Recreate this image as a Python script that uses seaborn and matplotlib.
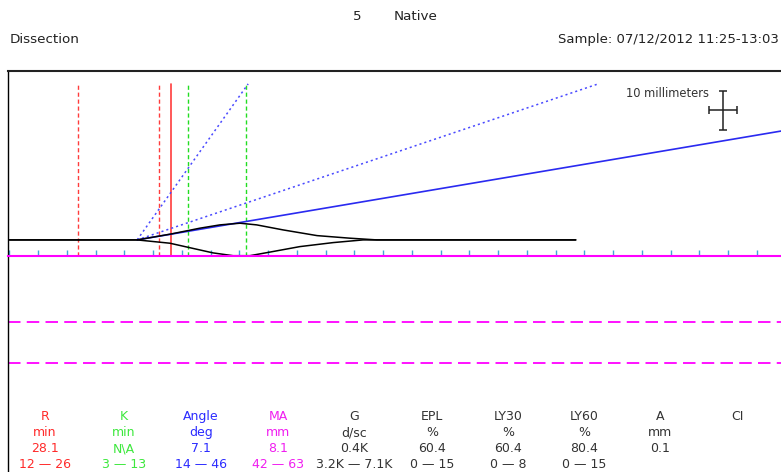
import numpy as np
import pandas as pd
import matplotlib
matplotlib.use("Agg")
import matplotlib.pyplot as plt
import seaborn as sns

# ---- assay parameters ----
r_value = 28.1            # min
r_range = [12, 26]        # min
k_range = [3, 13]         # min after R
angle_value = 7.1         # deg
angle_range = [14, 46]    # deg
ma_value = 8.1            # mm
ma_range = [42, 63]       # mm
paper_speed = 2.0         # mm of chart per minute
guide_top = 40.0          # mm, top of the guide lines
trace_onset = 22.2        # min, where the trace starts to open

# ---- tracing (amplitude in mm vs time in min) ----
upper_time = [0, 22.2, 27.9, 33.1, 36.6, 40.1, 43.0, 47.6, 53.5, 59.2, 63.9, 98.5]
upper_amp = [0, 0, 1.46, 3.0, 3.85, 4.28, 3.85, 2.56, 1.10, 0.44, 0, 0]
lower_time = [0, 22.2, 27.9, 35.4, 38.9, 41.8, 44.8, 50.5, 56.3, 61.5, 98.5]
lower_amp = [0, 0, -0.85, -3.33, -4.05, -4.05, -3.26, -1.72, -0.69, 0, 0]

# ---- results table ----
col_names = ["R", "K", "Angle", "MA", "G", "EPL", "LY30", "LY60", "A", "CI"]
col_units = ["min", "min", "deg", "mm", "d/sc", "%", "%", "%", "mm", ""]
col_values = ["28.1", "N\\A", "7.1", "8.1", "0.4K", "60.4", "60.4", "80.4", "0.1", ""]
col_ranges = ["12 — 26", "3 — 13", "14 — 46", "42 — 63", "3.2K — 7.1K",
              "0 — 15", "0 — 8", "0 — 15", "", ""]
col_colors = ["#ff2a2a", "#3de83d", "#2b2bff", "#f01ef0", "#333333",
              "#333333", "#333333", "#333333", "#333333", "#333333"]

sns.set_theme(style="white")
plt.rcParams["font.family"] = ["DejaVu Sans"]
plt.rcParams["lines.scale_dashes"] = False

W, H = 781, 472
fig = plt.figure(figsize=(W / 100, H / 100), dpi=100)
ax = fig.add_axes([8 / W, 0, (W - 8) / W, (H - 71) / H])
ax.set_xlim(-0.26, 134.2)
ax.set_ylim(-59.5, 43.3)

RED, GREEN = "#ff3c3c", "#22dd22"
BLUE_DOT, BLUE = "#4a4aff", "#2a2af0"
MAGENTA = "#ff00ff"

ma_half = ma_value / 2

# guide lines for R and K
for x in r_range:
    ax.plot([x, x], [-ma_half, guide_top], color=RED, lw=1, dashes=(3, 2))
ax.plot([r_value, r_value], [-ma_half, guide_top], color=RED, lw=1.2)
for k in k_range:
    x = r_value + k
    ax.plot([x, x], [-ma_half, guide_top], color=GREEN, lw=1, dashes=(3, 2))

# angle reference lines from the onset
for ang in angle_range:
    slope = paper_speed * np.tan(np.radians(ang))
    t_end = trace_onset + guide_top / slope
    df = pd.DataFrame({"t": [trace_onset, t_end], "a": [0, guide_top]})
    sns.lineplot(data=df, x="t", y="a", ax=ax, color=BLUE_DOT, lw=1.1,
                 dashes=False, estimator=None).lines[-1].set_dashes((1.5, 2.2))

slope = paper_speed * np.tan(np.radians(angle_value))
t_far = 140
df = pd.DataFrame({"t": [trace_onset, t_far], "a": [0, slope * (t_far - trace_onset)]})
sns.lineplot(data=df, x="t", y="a", ax=ax, color=BLUE, lw=1.2, estimator=None)

# the tracing
sns.lineplot(x=upper_time, y=upper_amp, ax=ax, color="black", lw=1.1, estimator=None)
sns.lineplot(x=lower_time, y=lower_amp, ax=ax, color="black", lw=1.1, estimator=None)

# MA normal range
for m in ma_range:
    ax.axhline(-m / 2, color=MAGENTA, lw=1.3, dashes=(9, 4.5))

# scale bar: 10 mm each way
ax.errorbar([124.1], [33.2], xerr=[10 / paper_speed / 2], yerr=[5],
            color="#222222", lw=1.1, capsize=3, capthick=1.1)
ax.text(121.6, 37.6, "10 millimeters", ha="right", va="center",
        fontsize=8.3, color="#333333")

# frame and time ticks on the MA line
for s in ["right"]:
    ax.spines[s].set_visible(False)
ax.spines["left"].set_color("black")
ax.spines["left"].set_linewidth(1.0)
ax.spines["top"].set_color("#222222")
ax.spines["top"].set_linewidth(1.5)
ax.spines["bottom"].set_position(("data", -ma_half))
ax.spines["bottom"].set_color(MAGENTA)
ax.spines["bottom"].set_linewidth(1.5)
ax.set_xticks(np.arange(0, 135, 5))
ax.set_yticks([])
ax.tick_params(axis="x", direction="in", length=4, width=1, color="#3fa6d9",
               bottom=True, labelbottom=False)
ax.set_xlabel("")
ax.set_ylabel("")

# header
def ftext(px, py, s, **kw):
    fig.text(px / W, 1 - py / H, s, **kw)

ftext(357, 20, "5", ha="center", va="baseline", fontsize=9.7, color="#222222")
ftext(394, 20, "Native", ha="left", va="baseline", fontsize=9.7, color="#222222")
ftext(10, 43, "Dissection", ha="left", va="baseline", fontsize=9.7, color="#222222")
ftext(779, 43, "Sample: 07/12/2012 11:25-13:03", ha="right", va="baseline",
      fontsize=9.5, color="#222222")

# results table
col_x = [45, 124, 201, 278, 354, 432, 508, 584, 660, 737]
row_y = [420, 436, 452, 468]
for i, cx in enumerate(col_x):
    for ry, txt in zip(row_y, [col_names[i], col_units[i], col_values[i], col_ranges[i]]):
        if txt:
            ftext(cx, ry, txt, ha="center", va="baseline", fontsize=9,
                  color=col_colors[i])

fig.savefig("out.png", dpi=100)
